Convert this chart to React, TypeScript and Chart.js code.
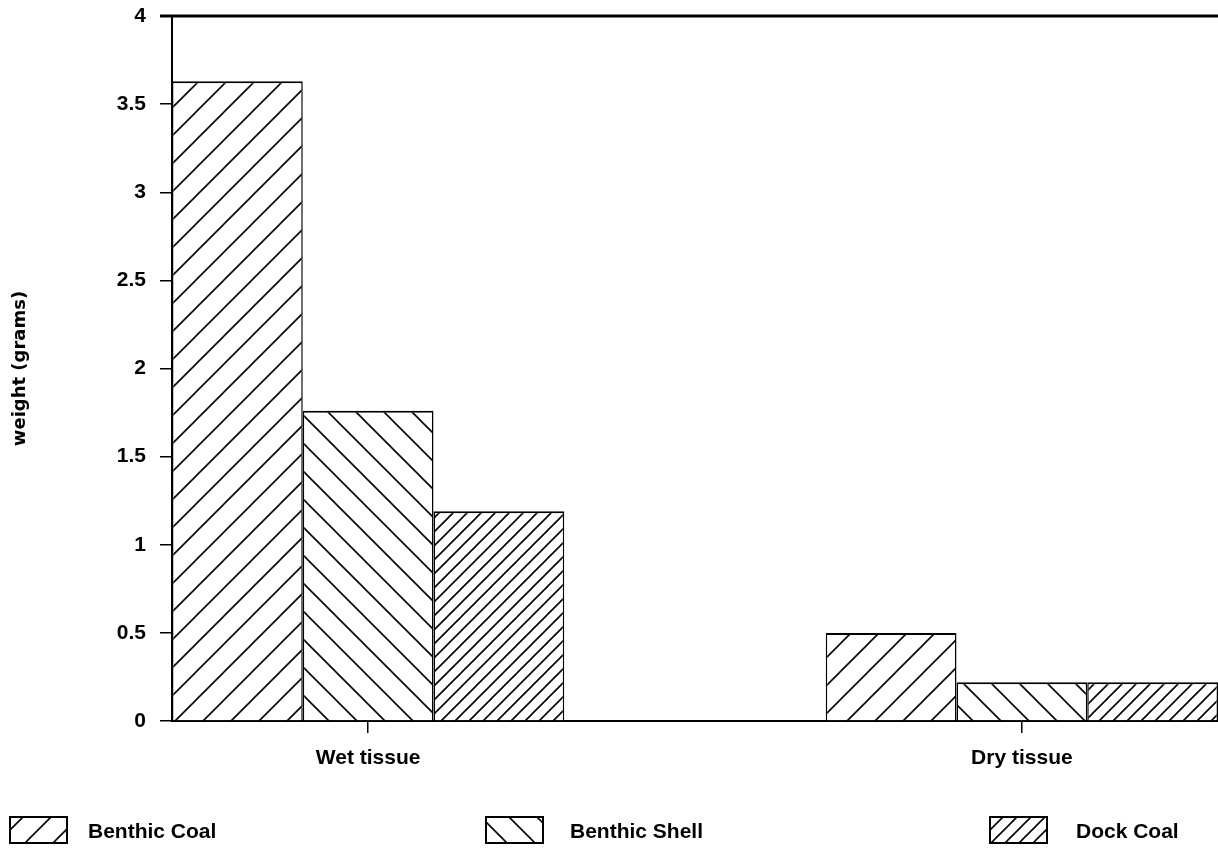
import React, { useEffect, useRef } from "react";
import { Chart, registerables } from "chart.js";

Chart.register(...registerables);

const categories = ["Wet tissue", "Dry tissue"];
const seriesNames = ["Benthic Coal", "Benthic Shell", "Dock Coal"];
const benthicCoal = [3.63, 0.5];
const benthicShell = [1.76, 0.22];
const dockCoal = [1.19, 0.22];
const yTickValues = [0, 0.5, 1, 1.5, 2, 2.5, 3, 3.5, 4];
const yTickLabels = ["0", "0.5", "1", "1.5", "2", "2.5", "3", "3.5", "4"];
const yTitle = "weight (grams)";

const FONT = "'Liberation Sans', Arial, sans-serif";

function hatch(period: number, dir: "/" | "\\"): CanvasPattern {
  const c = document.createElement("canvas");
  c.width = period;
  c.height = period;
  const g = c.getContext("2d")!;
  g.fillStyle = "#fff";
  g.fillRect(0, 0, period, period);
  g.strokeStyle = "#000";
  g.lineWidth = 1.6;
  g.beginPath();
  const p = period;
  if (dir === "/") {
    g.moveTo(0, p); g.lineTo(p, 0);
    g.moveTo(-p / 2, p / 2); g.lineTo(p / 2, -p / 2);
    g.moveTo(p / 2, p * 1.5); g.lineTo(p * 1.5, p / 2);
  } else {
    g.moveTo(0, 0); g.lineTo(p, p);
    g.moveTo(-p / 2, p / 2); g.lineTo(p / 2, p * 1.5);
    g.moveTo(p / 2, -p / 2); g.lineTo(p * 1.5, p / 2);
  }
  g.stroke();
  return g.createPattern(c, "repeat")!;
}

const legendBoxes = [
  { bx: 10, tx: 88 },
  { bx: 486, tx: 570 },
  { bx: 990, tx: 1076 },
];

export default function App() {
  const ref = useRef<HTMLCanvasElement>(null);
  useEffect(() => {
    const patterns = [hatch(28, "/"), hatch(28, "\\"), hatch(14, "/")];
    const series = [benthicCoal, benthicShell, dockCoal];

    const framePlugin = {
      id: "frame",
      afterDraw(chart: any) {
        const ctx = chart.ctx;
        const a = chart.chartArea;
        ctx.save();
        ctx.strokeStyle = "#000";
        ctx.lineWidth = 3;
        ctx.beginPath();
        ctx.moveTo(a.left - 12, a.top);
        ctx.lineTo(chart.width, a.top);
        ctx.stroke();
        chart.data.datasets.forEach((ds: any, i: number) => {
          const pos = legendBoxes[i];
          ctx.fillStyle = ds.backgroundColor;
          ctx.fillRect(pos.bx, 817, 57, 26);
          ctx.lineWidth = 2;
          ctx.strokeStyle = "#000";
          ctx.strokeRect(pos.bx, 817, 57, 26);
          ctx.fillStyle = "#000";
          ctx.font = `bold 21px ${FONT}`;
          ctx.textBaseline = "alphabetic";
          ctx.textAlign = "left";
          ctx.fillText(ds.label, pos.tx, 838);
        });
        ctx.restore();
      },
    };

    const chart = new Chart(ref.current!, {
      type: "bar",
      data: {
        datasets: seriesNames.map((name, si) => ({
          label: name,
          data: series[si].map((v, i) => ({ x: i, y: v })),
          backgroundColor: patterns[si],
          borderColor: "#000",
          borderWidth: { top: 2, left: 1.5, right: 1.5, bottom: 0 },
          borderSkipped: "start",
          inflateAmount: 0,
          categoryPercentage: 0.6,
          barPercentage: 1,
        })),
      },
      options: {
        responsive: false,
        animation: false,
        layout: { padding: { top: 16, right: 0, left: 0, bottom: 0 } },
        plugins: {
          legend: { display: false },
          tooltip: { enabled: false },
        },
        scales: {
          x: {
            type: "linear",
            min: -0.3,
            max: 1.3,
            offset: false,
            afterBuildTicks: (s: any) => {
              s.ticks = categories.map((_, i) => ({ value: i }));
            },
            afterFit: (s: any) => {
              s.height = 127;
              s.paddingLeft = 0;
              s.paddingRight = 0;
            },
            ticks: {
              callback: (v: any) => categories[v as number] ?? "",
              autoSkip: false,
              maxRotation: 0,
              padding: 13,
              color: "#000",
              font: { family: FONT, size: 21, weight: "bold" },
            },
            grid: {
              display: true,
              offset: false,
              drawOnChartArea: false,
              drawTicks: true,
              tickLength: 12,
              color: "#000",
              lineWidth: 1.5,
            },
            border: { display: true, color: "#000", width: 2 },
          },
          y: {
            min: 0,
            max: 4,
            afterBuildTicks: (s: any) => {
              s.ticks = yTickValues.map((v) => ({ value: v }));
            },
            afterFit: (s: any) => {
              s.width = 172;
              s.paddingTop = 0;
              s.paddingBottom = 0;
            },
            ticks: {
              callback: (v: any) => yTickLabels[yTickValues.indexOf(v as number)] ?? "",
              padding: 14,
              color: "#000",
              font: { family: FONT, size: 21, weight: "bold" },
            },
            grid: {
              display: true,
              drawOnChartArea: false,
              drawTicks: true,
              tickLength: 12,
              color: "#000",
              lineWidth: 1.5,
            },
            border: { display: true, color: "#000", width: 2 },
            title: {
              display: true,
              text: yTitle,
              color: "#000",
              padding: { top: 10, bottom: 0 },
              font: { family: "'DejaVu Sans', sans-serif", size: 18, weight: "bold" },
            },
          },
        },
      },
      plugins: [framePlugin],
    } as any);
    return () => chart.destroy();
  }, []);

  return (
    <div style={{ position: "absolute", left: 0, top: 0, width: 1218, height: 848, background: "#fff" }}>
      <canvas ref={ref} width={1218} height={848} />
    </div>
  );
}
